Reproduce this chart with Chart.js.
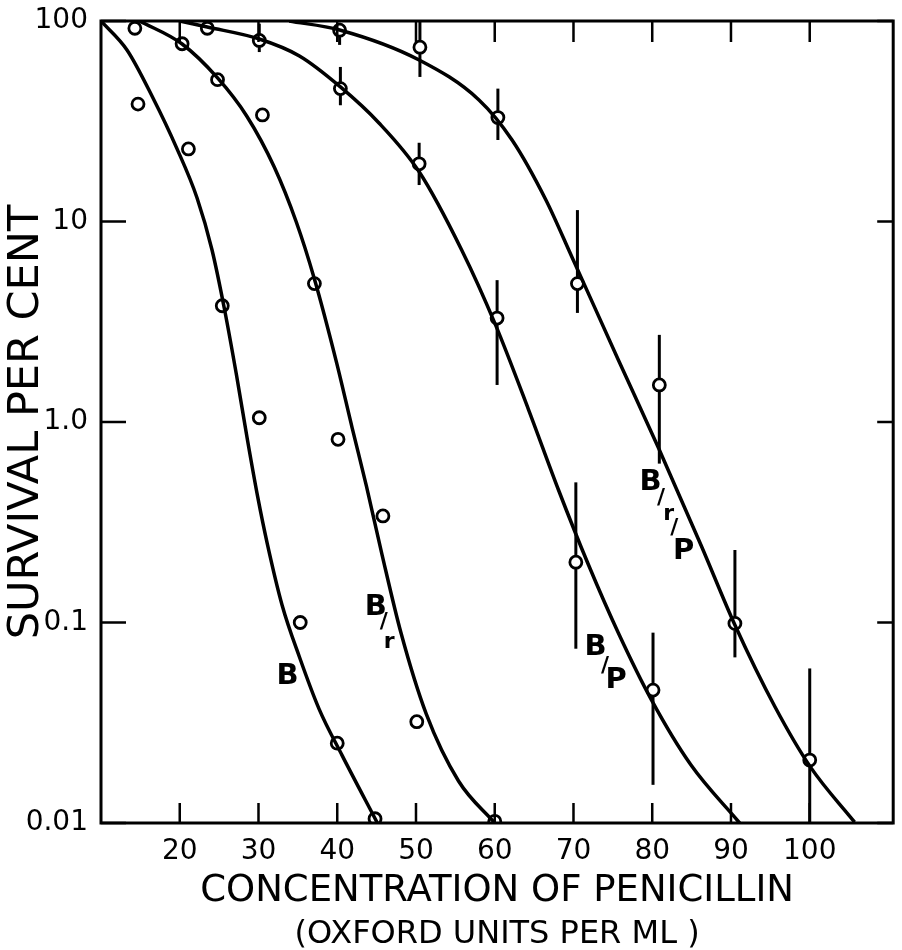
<!DOCTYPE html>
<html>

<head>
    <title>Survival vs Penicillin</title>
    <script src="https://cdn.jsdelivr.net/npm/chart.js"></script>
    <style>
        body { margin: 0; background: #fff; }
        canvas { display: block; }
    </style>
</head>

<body>
    <canvas id="survChart" width="902" height="950"></canvas>

    <script>
        // ------------- Data -------------
        const xTicks = [20, 30, 40, 50, 60, 70, 80, 90, 100];
        const yTicks = [0.01, 0.1, 1, 10, 100];
        const yTickLabels = ['0.01', '0.1', '1.0', '10', '100'];

        // measured points: [concentration, survival %]
        const pointsB = [[14.7, 38.5], [21.1, 23], [25.4, 3.8], [30.1, 1.05], [35.3, 0.10], [40.0, 0.025], [44.8, 0.0105]];
        const pointsBr = [[14.3, 92], [20.3, 77], [24.8, 51], [30.5, 34], [37.1, 4.9], [40.1, 0.82], [45.8, 0.34], [50.1, 0.032], [60.0, 0.0102]];
        const pointsBP = [[23.5, 92], [30.1, 80], [40.4, 46], [50.4, 19.4], [60.3, 3.3], [70.3, 0.2], [80.1, 0.046]];
        const pointsBrP = [[40.3, 90], [50.5, 74], [60.4, 33], [70.5, 4.9], [80.9, 1.53], [90.5, 0.099], [100.0, 0.0206]];

        // error bars [high, low], same order as the points
        const errBP = [null, [97, 70], [59, 38], [24.7, 15.2], [5.1, 1.53], [0.5, 0.074], [0.089, 0.0155]];
        const errBrP = [[98, 76], [100, 52.6], [46, 25.5], [11.4, 3.5], [2.72, 0.62], [0.23, 0.067], [0.059, 0.01]];

        // fitted curves
        const curveB = [[10, 100], [13.3, 71.7], [16.6, 41.3], [19.6, 23.3], [22.2, 13.1], [24.1, 7.21], [25.7, 3.62], [27.2, 1.72],
            [28.6, 0.813], [29.9, 0.423], [31.1, 0.249], [33.0, 0.122], [35.2, 0.0673], [37.7, 0.037], [40.6, 0.0218], [45.1, 0.01]];
        const curveBr = [[14.9, 100], [20.3, 76.8], [24.8, 52.0], [28.5, 33.6], [32.0, 18.7], [34.8, 9.94], [37.1, 5.17], [39.9, 1.99],
            [41.9, 0.933], [43.7, 0.48], [45.7, 0.217], [48.1, 0.0886], [51.3, 0.035], [55.4, 0.0162], [60.0, 0.01]];
        const curveBP = [[20.0, 100], [23.5, 93.3], [30.1, 81.3], [35.2, 66.9], [40.4, 46.9], [45.3, 31.0], [50.4, 17.7], [55.8, 7.21],
            [60.1, 3.05], [64.3, 1.15], [68.1, 0.458], [71.9, 0.194], [75.7, 0.0886], [79.9, 0.0411], [84.9, 0.0195], [91.1, 0.01]];
        const curveBrP = [[33.9, 100], [40.3, 90.2], [50.4, 63.9], [58.0, 40.4], [62.2, 25.5], [66.5, 12.8], [69.8, 6.65], [75.7, 2.04],
            [80.8, 0.742], [86.2, 0.243], [90.5, 0.0972], [95.6, 0.0379], [100.1, 0.019], [105.7, 0.0101]];

        // curve names written on the plot: [text, x, y]
        const curveLabels = [
            ['B', 33.7, 0.0535],
            ['B', 44.9, 0.119], ['/', 45.9, 0.100], ['r', 46.6, 0.080],
            ['B', 72.8, 0.0755], ['/', 74.0, 0.0607], ['P', 75.4, 0.0516],
            ['B', 79.8, 0.497], ['/', 81.1, 0.418], ['r', 82.1, 0.348], ['/', 82.8, 0.296], ['P', 84.0, 0.227]
        ];

        // ------------- Helpers -------------
        const toXY = arr => arr.map(p => ({ x: p[0], y: p[1] }));
        const FONT = '"DejaVu Sans", sans-serif';

        const curveDs = data => ({
            type: 'line',
            data: toXY(data),
            borderColor: '#000',
            borderWidth: 3.5,
            pointRadius: 0,
            fill: false,
            cubicInterpolationMode: 'monotone'
        });
        const pointDs = data => ({
            type: 'scatter',
            data: toXY(data),
            pointRadius: 6,
            pointBorderWidth: 2.8,
            borderColor: '#000',
            backgroundColor: '#fff',
            showLine: false
        });

        // no extra room for half tick labels: the plot box is set by hand
        const noPad = axis => {
            axis.paddingTop = 0; axis.paddingBottom = 0;
            axis.paddingLeft = 0; axis.paddingRight = 0;
        };

        // frame, inward ticks, error bars, labels, subtitle
        const figureDecor = {
            id: 'figureDecor',
            beforeDatasetsDraw(chart) {
                const { ctx, scales: { x, y } } = chart;
                ctx.save();
                ctx.strokeStyle = '#000';
                ctx.lineWidth = 3;
                const bars = (pts, errs) => pts.forEach((p, i) => {
                    const e = errs[i];
                    if (!e) return;
                    const px = x.getPixelForValue(p[0]);
                    ctx.beginPath();
                    ctx.moveTo(px, y.getPixelForValue(e[0]));
                    ctx.lineTo(px, y.getPixelForValue(e[1]));
                    ctx.stroke();
                });
                bars(pointsBP, errBP);
                bars(pointsBrP, errBrP);
                ctx.restore();
            },
            afterDraw(chart) {
                const { ctx, chartArea: a, scales: { x, y } } = chart;
                ctx.save();
                ctx.strokeStyle = '#000';
                ctx.lineWidth = 3;
                ctx.strokeRect(a.left, a.top, a.right - a.left, a.bottom - a.top);

                ctx.lineWidth = 2.5;
                ctx.beginPath();
                xTicks.forEach(v => {
                    const px = x.getPixelForValue(v);
                    ctx.moveTo(px, a.bottom); ctx.lineTo(px, a.bottom - 20);
                    ctx.moveTo(px, a.top); ctx.lineTo(px, a.top + 21);
                });
                yTicks.forEach(v => {
                    const py = y.getPixelForValue(v);
                    ctx.moveTo(a.left, py); ctx.lineTo(a.left + 25, py);
                    ctx.moveTo(a.right, py); ctx.lineTo(a.right - 16, py);
                });
                ctx.stroke();

                ctx.fillStyle = '#000';
                ctx.textAlign = 'center';
                ctx.textBaseline = 'middle';
                curveLabels.forEach(([t, vx, vy]) => {
                    ctx.font = (t === '/' || t === 'r' ? 'bold 22px ' : 'bold 29px ') + FONT;
                    ctx.fillText(t, x.getPixelForValue(vx), y.getPixelForValue(vy));
                });

                ctx.font = '32px ' + FONT;
                ctx.fillText('(OXFORD UNITS PER ML )', (a.left + a.right) / 2, 935);
                ctx.restore();
            }
        };

        // ------------- Chart -------------
        const chart = new Chart(document.getElementById('survChart'), {
            data: {
                datasets: [
                    curveDs(curveB), curveDs(curveBr), curveDs(curveBP), curveDs(curveBrP),
                    pointDs(pointsB), pointDs(pointsBr), pointDs(pointsBP), pointDs(pointsBrP)
                ]
            },
            options: {
                responsive: false,
                animation: false,
                layout: { padding: { top: 21, right: 6, left: 0, bottom: 0 } },
                plugins: { legend: { display: false }, tooltip: { enabled: false } },
                scales: {
                    x: {
                        type: 'linear',
                        min: 10,
                        max: 110.6,
                        afterBuildTicks: axis => { axis.ticks = xTicks.map(v => ({ value: v })); },
                        afterFit: axis => { axis.height = 127; noPad(axis); },
                        grid: { display: false, drawTicks: false },
                        border: { display: false },
                        ticks: { color: '#000', padding: 12, maxRotation: 0, font: { family: FONT, size: 28 } },
                        title: {
                            display: true,
                            text: 'CONCENTRATION OF PENICILLIN',
                            color: '#000',
                            font: { family: FONT, size: 37, lineHeight: 1 },
                            padding: { top: 0, bottom: 40 }
                        }
                    },
                    y: {
                        type: 'logarithmic',
                        min: 0.01,
                        max: 100,
                        afterBuildTicks: axis => { axis.ticks = yTicks.map(v => ({ value: v })); },
                        afterFit: axis => { axis.width = 101; noPad(axis); },
                        grid: { display: false, drawTicks: false },
                        border: { display: false },
                        ticks: {
                            color: '#000',
                            padding: 13,
                            font: { family: FONT, size: 28 },
                            callback: v => yTickLabels[yTicks.indexOf(v)]
                        },
                        title: {
                            display: true,
                            text: 'SURVIVAL PER CENT',
                            color: '#000',
                            font: { family: FONT, size: 43, lineHeight: 1 },
                            padding: { top: 5, bottom: 0 }
                        }
                    }
                }
            },
            plugins: [figureDecor]
        });
    </script>
</body>

</html>
